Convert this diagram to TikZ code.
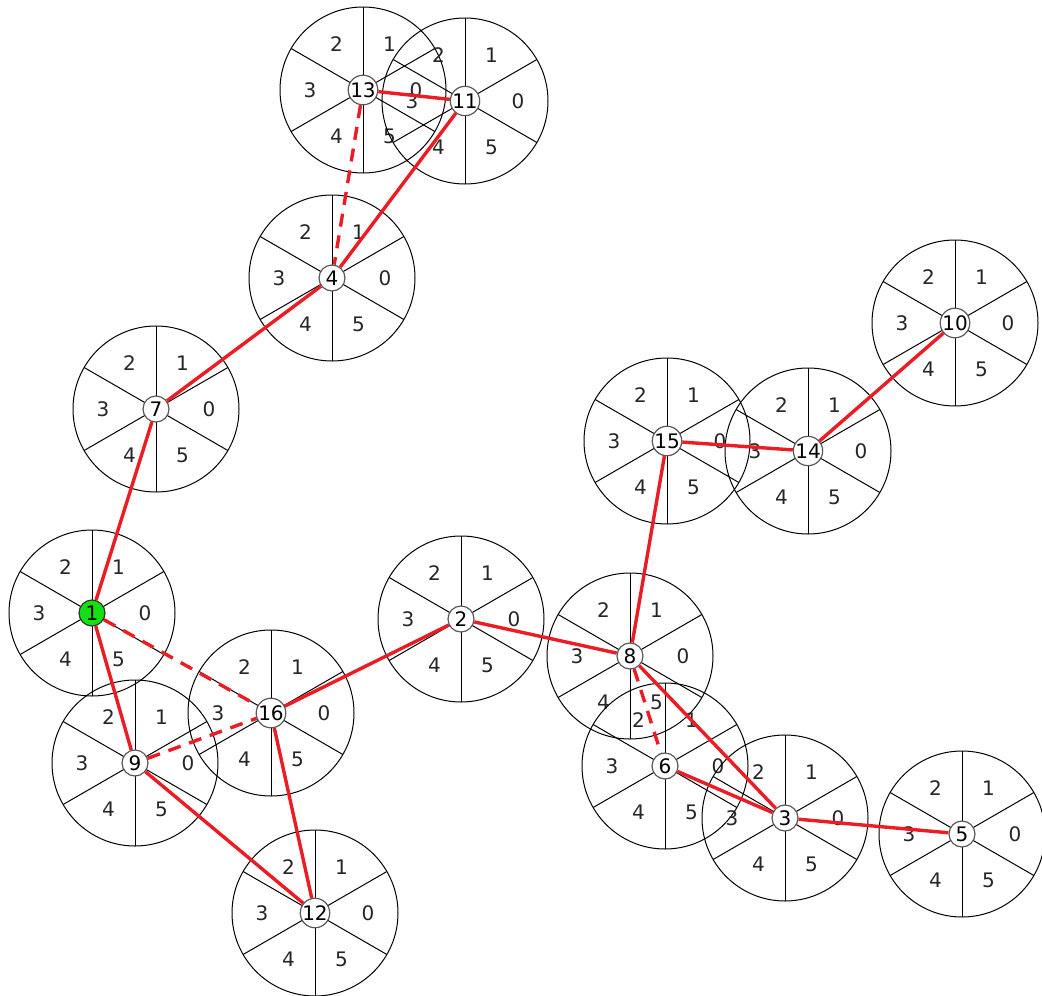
\documentclass[tikz,border=0pt]{standalone}
\usepackage{fontspec}
\setmainfont{DejaVu Sans}
\definecolor{edgered}{RGB}{235,28,36}
\definecolor{startgreen}{RGB}{20,225,20}
\tikzset{
  wheelrim/.style={draw=black, line width=1pt},
  spoke/.style={draw=black, line width=1pt},
  seclabel/.style={font=\fontsize{20}{20}\selectfont, text=black!85, inner sep=0pt},
  hub/.style={circle, draw=black!65, fill=white, line width=1.2pt, minimum size=26pt, inner sep=0pt, font=\fontsize{20}{20}\selectfont},
  starthub/.style={hub, fill=startgreen, draw=black!80},
  link/.style={draw=edgered, line width=3.4pt},
  dlink/.style={link, dash pattern=on 13pt off 9pt},
}
\newcommand{\wheelat}[3]{%
  \coordinate (w#1) at (#2,#3);
  \draw[wheelrim] (w#1) circle (83);
  \foreach \a in {30,90,...,330} \draw[spoke] (w#1) -- ([shift={(\a:83)}]w#1);
  \foreach \k in {0,...,5} \node[seclabel] (l#1x\k) at ([shift={(\k*60:53)}]w#1) {\k};
}
\begin{document}
\begin{tikzpicture}[x=1pt,y=1pt]
\useasboundingbox (0,0) rectangle (1042,-996);
% wheels
\wheelat{13}{363}{-90}
\wheelat{11}{465}{-101}
\wheelat{4}{332}{-278}
\wheelat{7}{156}{-409}
\wheelat{10}{955}{-323}
\wheelat{15}{667}{-441}
\wheelat{14}{808}{-451}
\wheelat{1}{92}{-613}
\wheelat{2}{461}{-619}
\wheelat{8}{630}{-656}
\wheelat{16}{271}{-713}
\wheelat{9}{135}{-763}
\wheelat{6}{665}{-766}
\wheelat{3}{785}{-818}
\wheelat{5}{962}{-834}
\wheelat{12}{315}{-913}
% hubs
\node[hub] (n13) at (w13) {13};
\node[hub] (n11) at (w11) {11};
\node[hub] (n4) at (w4) {4};
\node[hub] (n7) at (w7) {7};
\node[hub] (n10) at (w10) {10};
\node[hub] (n15) at (w15) {15};
\node[hub] (n14) at (w14) {14};
\node[starthub] (n1) at (w1) {1};
\node[hub] (n2) at (w2) {2};
\node[hub] (n8) at (w8) {8};
\node[hub] (n16) at (w16) {16};
\node[hub] (n9) at (w9) {9};
\node[hub] (n6) at (w6) {6};
\node[hub] (n3) at (w3) {3};
\node[hub] (n5) at (w5) {5};
\node[hub] (n12) at (w12) {12};
% links
\draw[link] (n13) -- (n11);
\draw[dlink] (n13) -- (n4);
\draw[link] (n11) -- (n4);
\draw[link] (n4) -- (n7);
\draw[link] (n7) -- (n1);
\draw[link] (n1) -- (n9);
\draw[dlink] (n1) -- (n16);
\draw[dlink] (n9) -- (n16);
\draw[link] (n9) -- (n12);
\draw[link] (n16) -- (n12);
\draw[link] (n16) -- (n2);
\draw[link] (n2) -- (n8);
\draw[link] (n8) -- (n15);
\draw[link] (n15) -- (n14);
\draw[link] (n14) -- (n10);
\draw[dlink] (n8) -- (n6);
\draw[link] (n8) -- (n3);
\draw[link] (n6) -- (n3);
\draw[link] (n3) -- (n5);
\end{tikzpicture}
\end{document}
